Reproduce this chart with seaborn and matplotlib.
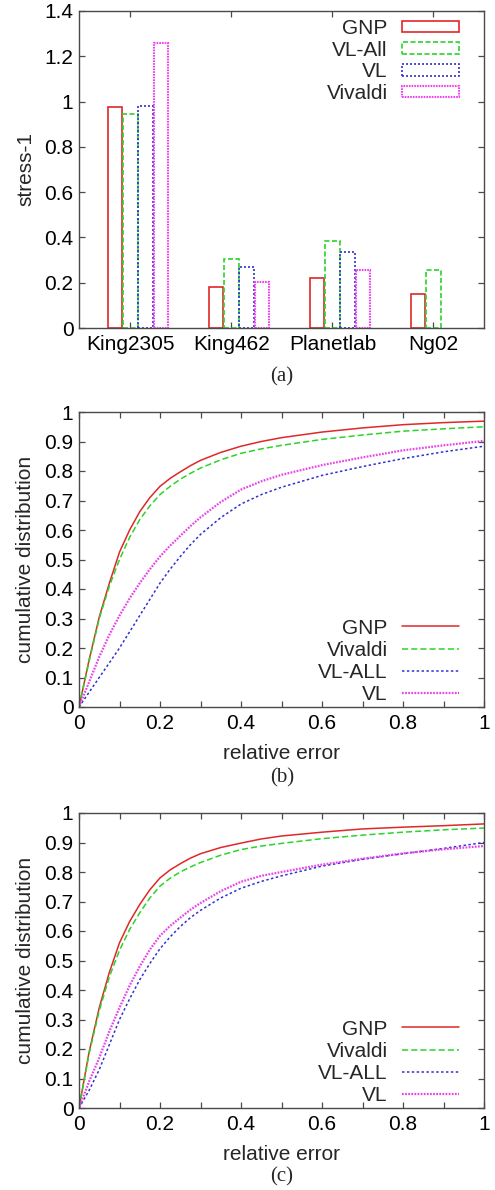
import numpy as np
import pandas as pd
import matplotlib
matplotlib.use("Agg")
import matplotlib.pyplot as plt
from matplotlib.patches import Patch
from matplotlib.ticker import MultipleLocator, FuncFormatter
import seaborn as sns

# ---------------- data ----------------
datasets = ["King2305", "King462", "Planetlab", "Ng02"]
bar_methods = ["GNP", "VL-All", "VL", "Vivaldi"]
stress_gnp = [0.975, 0.18, 0.22, 0.15]
stress_vlall = [0.945, 0.305, 0.385, 0.255]
stress_vl = [0.98, 0.27, 0.335, np.nan]
stress_vivaldi = [1.26, 0.205, 0.255, np.nan]

cdf_methods = ["GNP", "Vivaldi", "VL-ALL", "VL"]
rel_err = [0, 0.025, 0.05, 0.075, 0.1, 0.125, 0.15, 0.175, 0.2, 0.225, 0.25,
           0.275, 0.3, 0.35, 0.4, 0.45, 0.5, 0.6, 0.7, 0.8, 0.9, 1.0]
b_gnp = [0, 0.16, 0.305, 0.42, 0.525, 0.60, 0.662, 0.71, 0.748, 0.775, 0.797,
         0.818, 0.836, 0.863, 0.884, 0.900, 0.913, 0.932, 0.946, 0.957, 0.964, 0.969]
b_vivaldi = [0, 0.155, 0.30, 0.41, 0.50, 0.575, 0.635, 0.682, 0.72, 0.748, 0.772,
             0.792, 0.81, 0.838, 0.86, 0.875, 0.887, 0.907, 0.922, 0.935, 0.943, 0.950]
b_vlall = [0, 0.05, 0.10, 0.15, 0.20, 0.255, 0.31, 0.365, 0.42, 0.467, 0.51,
           0.55, 0.585, 0.642, 0.688, 0.72, 0.745, 0.785, 0.815, 0.842, 0.865, 0.884]
b_vl = [0, 0.085, 0.17, 0.245, 0.31, 0.368, 0.42, 0.467, 0.51, 0.547, 0.58,
        0.613, 0.643, 0.695, 0.737, 0.765, 0.787, 0.82, 0.846, 0.87, 0.887, 0.902]
c_gnp = [0, 0.19, 0.34, 0.46, 0.56, 0.632, 0.69, 0.74, 0.78, 0.807, 0.828,
         0.847, 0.862, 0.883, 0.898, 0.912, 0.922, 0.935, 0.946, 0.952, 0.957, 0.963]
c_vivaldi = [0, 0.185, 0.33, 0.445, 0.535, 0.605, 0.662, 0.712, 0.752, 0.779, 0.80,
             0.817, 0.832, 0.857, 0.876, 0.888, 0.897, 0.913, 0.925, 0.935, 0.943, 0.949]
c_vlall = [0, 0.06, 0.13, 0.215, 0.30, 0.37, 0.435, 0.49, 0.54, 0.58, 0.615,
           0.645, 0.67, 0.712, 0.745, 0.768, 0.787, 0.82, 0.843, 0.862, 0.88, 0.90]
c_vl = [0, 0.09, 0.17, 0.26, 0.34, 0.415, 0.48, 0.537, 0.584, 0.617, 0.645,
        0.672, 0.695, 0.735, 0.767, 0.787, 0.80, 0.825, 0.845, 0.863, 0.877, 0.888]

# ---------------- style ----------------
sns.set_style("white")
FRAME = "#4a4a4a"
plt.rcParams["font.family"] = ["Liberation Sans", "DejaVu Sans"]
plt.rcParams["axes.edgecolor"] = FRAME
plt.rcParams["axes.linewidth"] = 1.0
FS = 15

bar_pal = {"GNP": "#e02828", "VL-All": "#2ad42a", "VL": "#3030d0", "Vivaldi": "#ee44ee"}
bar_ls = {"GNP": "-", "VL-All": (0, (3, 1.5)), "VL": (0, (1.2, 1.2)), "Vivaldi": (0, (0.8, 0.5))}
bar_lw = {"GNP": 1.2, "VL-All": 1.2, "VL": 1.2, "Vivaldi": 1.5}
cdf_pal = {"GNP": "#e02828", "Vivaldi": "#2ad42a", "VL-ALL": "#3030d0", "VL": "#e844e8"}
cdf_dash = {"GNP": "", "Vivaldi": (4, 2), "VL-ALL": (1.6, 1.6), "VL": (0.8, 0.6)}
cdf_lw = {"GNP": 1.1, "Vivaldi": 1.1, "VL-ALL": 1.1, "VL": 1.6}

fig = plt.figure(figsize=(4.95, 11.9), dpi=100)
L, W = 79 / 495, 405 / 495
ax_a = fig.add_axes([L, 1 - 328 / 1190, W, 317 / 1190])
ax_b = fig.add_axes([L, 1 - 707 / 1190, W, 295 / 1190])
ax_c = fig.add_axes([L, 1 - 1108 / 1190, W, 295 / 1190])
YLAB_X = (35 - 79) / 405


def style_ticks(ax):
    ax.tick_params(axis="both", which="both", direction="in", top=True, right=True,
                   bottom=True, left=True, length=4, width=0.9, color=FRAME,
                   labelsize=FS, pad=4, labelcolor="black")
    ax.tick_params(axis="x", pad=5)
    for s in ax.spines.values():
        s.set_color(FRAME)
        s.set_linewidth(1.0)


def num_fmt(v, pos):
    s = f"{v:.1f}"
    if s.endswith(".0"):
        s = s[:-2]
    return s


# ---------------- panel (a) ----------------
df_a = pd.DataFrame({
    "dataset": datasets * 4,
    "method": sum([[m] * 4 for m in bar_methods], []),
    "stress": stress_gnp + stress_vlall + stress_vl + stress_vivaldi,
}).dropna()
sns.barplot(data=df_a, x="dataset", y="stress", hue="method", hue_order=bar_methods,
            order=datasets, palette=bar_pal, fill=False, width=0.6, gap=0.06,
            linewidth=1.2, errorbar=None, ax=ax_a, legend=False)
for cont, m in zip(ax_a.containers, bar_methods):
    for p in cont.patches:
        p.set_linestyle(bar_ls[m])
        p.set_linewidth(bar_lw[m])
        p.set_edgecolor(bar_pal[m])
ax_a.set_ylim(0, 1.4)
ax_a.set_xlim(-0.584, 3.426)
ax_a.yaxis.set_major_locator(MultipleLocator(0.2))
ax_a.yaxis.set_major_formatter(FuncFormatter(num_fmt))
ax_a.set_xticks([i - 0.075 for i in range(len(datasets))])
ax_a.set_xticklabels(datasets)
ax_a.set_xlabel("")
ax_a.set_ylabel("stress-1", fontsize=FS)
ax_a.yaxis.set_label_coords(YLAB_X, 0.5)
style_ticks(ax_a)
handles = [Patch(facecolor="none", edgecolor=bar_pal[m], linestyle=bar_ls[m],
                 linewidth=bar_lw[m], label=m) for m in bar_methods]
ax_a.legend(handles=handles, loc="upper right", bbox_to_anchor=(0.938, 0.975),
            frameon=False, markerfirst=False, fontsize=FS, handlelength=2.74,
            handleheight=0.48, handletextpad=0.67, labelspacing=0.13,
            borderpad=0, borderaxespad=0)


# ---------------- panels (b), (c) ----------------
def cdf_panel(ax, series):
    df = pd.DataFrame({
        "err": rel_err * 4,
        "cdf": sum(series, []),
        "method": sum([[m] * len(rel_err) for m in cdf_methods], []),
    })
    sns.lineplot(data=df, x="err", y="cdf", hue="method", style="method",
                 hue_order=cdf_methods, style_order=cdf_methods, palette=cdf_pal,
                 dashes=cdf_dash, ax=ax, legend=False, estimator=None, sort=False)
    for line, m in zip(ax.lines, cdf_methods):
        line.set_linewidth(cdf_lw[m])
        line.set_label(m)
    ax.set_xlim(0, 1)
    ax.set_ylim(0, 1)
    ax.xaxis.set_major_locator(MultipleLocator(0.2))
    ax.xaxis.set_minor_locator(MultipleLocator(0.1))
    ax.yaxis.set_major_locator(MultipleLocator(0.1))
    ax.xaxis.set_major_formatter(FuncFormatter(num_fmt))
    ax.yaxis.set_major_formatter(FuncFormatter(num_fmt))
    ax.set_xlabel("relative error", fontsize=FS)
    ax.set_ylabel("cumulative distribution", fontsize=FS)
    ax.yaxis.set_label_coords(YLAB_X, 0.5)
    ax.xaxis.set_label_coords(0.5, -0.125)
    style_ticks(ax)
    ax.legend(handles=ax.lines[:4], labels=cdf_methods, loc="lower right",
              bbox_to_anchor=(0.938, 0.01), frameon=False, markerfirst=False,
              fontsize=FS, handlelength=2.74, handletextpad=0.67,
              labelspacing=0.15, borderpad=0, borderaxespad=0)


cdf_panel(ax_b, [b_gnp, b_vivaldi, b_vlall, b_vl])
cdf_panel(ax_c, [c_gnp, c_vivaldi, c_vlall, c_vl])

for lab, y in [("(a)", 377), ("(b)", 778), ("(c)", 1177)]:
    fig.text(282 / 495, 1 - y / 1190, lab, ha="center", va="center",
             fontsize=FS, family=["Liberation Serif", "DejaVu Serif"])

fig.savefig("out.png", dpi=100)
